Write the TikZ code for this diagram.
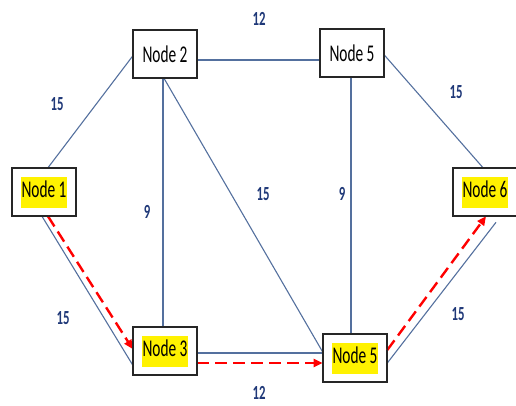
\documentclass[tikz,border=0pt]{standalone}
\usepackage{fontspec}
\setmainfont{Carlito}
\usetikzlibrary{arrows.meta}
\definecolor{edgeblue}{RGB}{84,112,158}
\definecolor{labblue}{RGB}{31,56,120}
\newcommand\hlbox[1]{{\fboxsep=1.5pt\colorbox{yellow}{\strut#1}}}
\newcommand\sq[1]{\scalebox{0.64}[1]{#1}}
\tikzset{
  nodebox/.style={draw=black!85, line width=1.6pt, fill=white, minimum width=63pt, minimum height=47pt, inner sep=0pt, font=\fontsize{24}{28}\selectfont},
  edge/.style={draw=edgeblue, line width=1.1pt},
  path/.style={draw=red, line width=2.4pt, dash pattern=on 12pt off 6pt, -{Triangle[length=9pt,width=8pt]}},
  wlab/.style={text=labblue, font=\fontsize{20}{24}\selectfont\bfseries, inner sep=0pt}
}
\begin{document}
\begin{tikzpicture}[x=1pt,y=-1pt]
\useasboundingbox (0,0) rectangle (516,405);
% nodes
\node[nodebox] (n2) at (165,54) {\sq{Node 2}};
\node[nodebox] (n5t) at (352,53) {\sq{Node 5}};
\node[nodebox] (n1) at (44,192) {\sq{\hlbox{Node 1}}};
\node[nodebox] (n6) at (485,192) {\sq{\hlbox{Node 6}}};
\node[nodebox] (n3) at (165,351) {\sq{\hlbox{Node 3}}};
\node[nodebox] (n5b) at (355,358) {\sq{\hlbox{Node 5}}};
% edges
\draw[edge] ([xshift=4pt]n1.north) -- ([yshift=-2pt]n2.west);
\draw[edge] ([yshift=-6pt]n2.east) -- ([yshift=-6pt]n2.east -| n5t.west);
\draw[edge] ([xshift=-2pt]n2.south) -- ([xshift=-2pt]n2.south |- n3.north);
\draw[edge] ([xshift=-1pt]n2.south) -- ([yshift=6pt]n5b.west);
\draw[edge] ([xshift=-1pt]n5t.south) -- ([xshift=-1pt]n5t.south |- n5b.north);
\draw[edge] ([yshift=-2pt]n5t.east) -- ([xshift=-2pt]n6.north);
\draw[edge] ([xshift=-2pt]n1.south) -- ([yshift=-14pt]n3.west);
\draw[edge] ([yshift=-2pt]n3.east) -- ([yshift=-2pt]n3.east -| n5b.west);
\draw[edge] ([yshift=-5pt]n5b.east) -- ([xshift=11pt,yshift=-6pt]n6.south);
% path
\draw[path] ([xshift=4pt]n1.south) -- ([yshift=2pt]n3.west);
\draw[path] ([yshift=-12pt]n3.east) -- ([yshift=-12pt]n3.east -| n5b.west);
\draw[path] ([yshift=8pt]n5b.east) -- ([xshift=1pt]n6.south);
% node borders on top
\foreach \n in {n1,n2,n3,n5t,n5b,n6}{\draw[draw=black!85, line width=1.6pt] (\n.north west) rectangle (\n.south east);}
% weights
\node[wlab] (w1) at (259,19) {\sq{12}};
\node[wlab] (w2) at (57,104) {\sq{15}};
\node[wlab] (w3) at (456,92) {\sq{15}};
\node[wlab] (w4) at (147,212) {\sq{9}};
\node[wlab] (w5) at (263,194) {\sq{15}};
\node[wlab] (w6) at (342,194) {\sq{9}};
\node[wlab] (w7) at (63,318) {\sq{15}};
\node[wlab] (w8) at (458,314) {\sq{15}};
\node[wlab] (w9) at (259,393) {\sq{12}};
\end{tikzpicture}
\end{document}
